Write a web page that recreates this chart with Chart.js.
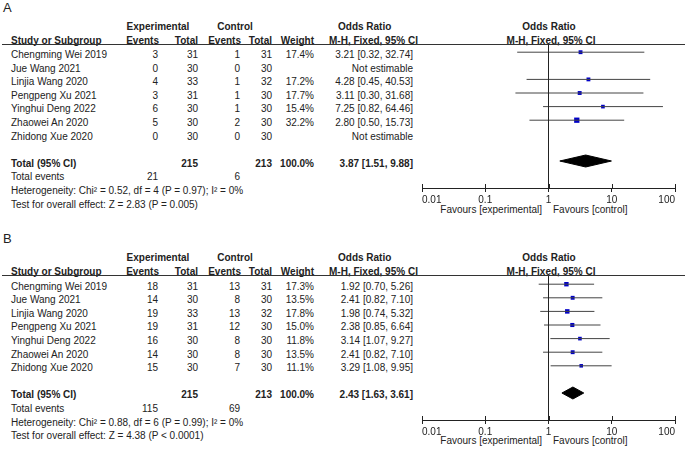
<!DOCTYPE html>
<html><head><meta charset="utf-8">
<script src="https://cdn.jsdelivr.net/npm/chart.js@4/dist/chart.umd.min.js"></script>
<style>
html,body{margin:0;padding:0;background:#fff;}
#root{position:relative;width:685px;height:449px;overflow:hidden;font-family:"Liberation Sans",Arial,sans-serif;font-size:10px;color:#222;}
.t{position:absolute;white-space:nowrap;line-height:12px;height:12px;}
.b{font-weight:bold;}
canvas{position:absolute;left:0;}
.hl{position:absolute;height:0;border-top:1px solid #333;}
</style></head><body><div id="root"></div>
<script>
// ---------- data ----------
const studies = ["Chengming Wei 2019","Jue Wang 2021","Linjia Wang 2020","Pengpeng Xu 2021","Yinghui Deng 2022","Zhaowei An 2020","Zhidong Xue 2020"];

const aExpEvents  = [3,0,4,3,6,5,0];
const aExpTotal   = [31,30,33,31,30,30,30];
const aCtrlEvents = [1,0,1,1,1,2,0];
const aCtrlTotal  = [31,30,32,30,30,30,30];
const aWeight     = [17.4,null,17.2,17.7,15.4,32.2,null];
const aOR         = [3.21,null,4.28,3.11,7.25,2.80,null];
const aLo         = [0.32,null,0.45,0.30,0.82,0.50,null];
const aHi         = [32.74,null,40.53,31.68,64.46,15.73,null];
const aTotals     = [215,213];          // exp total, ctrl total
const aEvents     = [21,6];             // total events exp, ctrl
const aPooled     = [3.87,1.51,9.88];   // OR, lo, hi
const aHet  = "Heterogeneity: Chi\u00b2 = 0.52, df = 4 (P = 0.97); I\u00b2 = 0%";
const aTest = "Test for overall effect: Z = 2.83 (P = 0.005)";

const bExpEvents  = [18,14,19,19,16,14,15];
const bExpTotal   = [31,30,33,31,30,30,30];
const bCtrlEvents = [13,8,13,12,8,8,7];
const bCtrlTotal  = [31,30,32,30,30,30,30];
const bWeight     = [17.3,13.5,17.8,15.0,11.8,13.5,11.1];
const bOR         = [1.92,2.41,1.98,2.38,3.14,2.41,3.29];
const bLo         = [0.70,0.82,0.74,0.85,1.07,0.82,1.08];
const bHi         = [5.26,7.10,5.32,6.64,9.27,7.10,9.95];
const bTotals     = [215,213];
const bEvents     = [115,69];
const bPooled     = [2.43,1.63,3.61];
const bHet  = "Heterogeneity: Chi\u00b2 = 0.88, df = 6 (P = 0.99); I\u00b2 = 0%";
const bTest = "Test for overall effect: Z = 4.38 (P < 0.0001)";

const tickValues = [0.01,0.1,1,10,100];
const tickLabels = ["0.01","0.1","1","10","100"];
const favoursLeft = "Favours [experimental]";
const favoursRight = "Favours [control]";

// ---------- layout ----------
const root = document.getElementById('root');
const ROW0 = 55, ROWH = 13.6;
function txt(x, y, s, align, bold) {
  const d = document.createElement('div');
  d.className = 't' + (bold ? ' b' : '');
  d.textContent = s;
  d.style.top = (y - 6) + 'px';
  if (align === 'r') { d.style.left = (x - 1000) + 'px'; d.style.width = '1000px'; d.style.textAlign = 'right'; }
  else if (align === 'c') { d.style.left = (x - 500) + 'px'; d.style.width = '1000px'; d.style.textAlign = 'center'; }
  else { d.style.left = x + 'px'; }
  root.appendChild(d);
  return d;
}
function fmtOR(o,l,h){ return o.toFixed(2) + " [" + l.toFixed(2) + ", " + h.toFixed(2) + "]"; }

const Y_MIN = -0.603, Y_MAX = 9.985, DH = 0.44;

function panel(label, off, canvasTop, sq, ee, et, ce, ct, w, or, lo, hi, totals, events, pooled, het, test) {
  const lab = txt(3, off + 7.5, label, 'l', false);
  lab.style.fontSize = '13px'; lab.style.lineHeight = '12px';
  txt(158, off + 26.7, "Experimental", 'c', true);
  txt(235, off + 26.7, "Control", 'c', true);
  txt(338, off + 26.7, "Odds Ratio", 'l', true);
  txt(549, off + 26.7, "Odds Ratio", 'c', true);
  txt(11, off + 40.7, "Study or Subgroup", 'l', true);
  txt(159, off + 40.7, "Events", 'r', true);
  txt(198, off + 40.7, "Total", 'r', true);
  txt(241, off + 40.7, "Events", 'r', true);
  txt(272, off + 40.7, "Total", 'r', true);
  txt(314, off + 40.7, "Weight", 'r', true);
  txt(329, off + 40.7, "M-H, Fixed, 95% CI", 'l', true);
  txt(551, off + 40.7, "M-H, Fixed, 95% CI", 'c', true);
  const hl = document.createElement('div');
  hl.className = 'hl'; hl.style.left = '2px'; hl.style.width = '683px'; hl.style.top = Math.round(off + 43.5) + 'px';
  root.appendChild(hl);
  studies.forEach((s, i) => {
    const y = off + ROW0 + ROWH * i;
    txt(11, y, s, 'l');
    txt(158, y, String(ee[i]), 'r');
    txt(198, y, String(et[i]), 'r');
    txt(240, y, String(ce[i]), 'r');
    txt(272, y, String(ct[i]), 'r');
    if (w[i] != null) txt(314, y, w[i].toFixed(1) + "%", 'r');
    txt(413, y, or[i] != null ? fmtOR(or[i], lo[i], hi[i]) : "Not estimable", 'r');
  });
  const yT = off + ROW0 + ROWH * 8;
  txt(11, yT, "Total (95% CI)", 'l', true);
  txt(198, yT, String(totals[0]), 'r', true);
  txt(272, yT, String(totals[1]), 'r', true);
  txt(314, yT, "100.0%", 'r', true);
  txt(413, yT, fmtOR(pooled[0], pooled[1], pooled[2]), 'r', true);
  txt(11, off + ROW0 + ROWH * 9, "Total events", 'l');
  txt(158, off + ROW0 + ROWH * 9, String(events[0]), 'r');
  txt(240, off + ROW0 + ROWH * 9, String(events[1]), 'r');
  txt(11, off + ROW0 + ROWH * 10, het, 'l');
  txt(11, off + ROW0 + ROWH * 11, test, 'l');
  txt(542, off + 209.8, favoursLeft, 'r');
  txt(553, off + 209.8, favoursRight, 'l');

  // chart
  const cv = document.createElement('canvas');
  cv.width = 685; cv.height = 216;
  cv.style.top = canvasTop + 'px';
  root.appendChild(cv);

  const datasets = [];
  datasets.push({ data: [{x:1,y:Y_MIN},{x:1,y:Y_MAX}], borderColor:'#222', borderWidth:1, pointRadius:0 });
  or.forEach((v, i) => {
    if (v == null) return;
    datasets.push({ data: [{x:lo[i],y:i},{x:hi[i],y:i}], borderColor:'#444', borderWidth:1, pointRadius:0 });
  });
  const pts = [], rad = [];
  or.forEach((v, i) => { if (v != null) { pts.push({x:v,y:i}); rad.push(sq * Math.sqrt(w[i]) / 1.414); } });
  datasets.push({ data: pts, showLine:false, pointStyle:'rect', pointRadius: rad, backgroundColor:'#0000c8', borderColor:'#0000c8', borderWidth:0 });
  datasets.push({ data: [{x:pooled[1],y:8},{x:pooled[0],y:8-DH},{x:pooled[2],y:8},{x:pooled[0],y:8+DH},{x:pooled[1],y:8}],
    fill:'shape', backgroundColor:'#000', borderColor:'#000', borderWidth:1, pointRadius:0 });

  const crossTicks = {
    id:'crossTicks',
    afterDraw(chart) {
      const ctx = chart.ctx, xs = chart.scales.x, b = chart.chartArea.bottom;
      ctx.save(); ctx.strokeStyle = '#222'; ctx.lineWidth = 1;
      tickValues.forEach(v => {
        const px = Math.round(xs.getPixelForValue(v)) + 0.5;
        ctx.beginPath(); ctx.moveTo(px, b - 4); ctx.lineTo(px, b); ctx.stroke();
      });
      ctx.restore();
    }
  };

  new Chart(cv, {
    type: 'line',
    data: { datasets },
    options: {
      responsive:false, animation:false, events:[],
      layout: { padding: { left:422, right:10, top:44, bottom:8 } },
      plugins: { legend:{display:false}, tooltip:{enabled:false} },
      scales: {
        x: {
          type:'logarithmic', min:0.01, max:100, position:'bottom',
          afterBuildTicks: (s) => { s.ticks = tickValues.map(v => ({ value: v, major: true })); },
          afterFit: (s) => { s.height = 20; },
          ticks: { autoSkip:false, maxRotation:0, padding:2, color:'#222', align:'inner',
                   font:{ family:'"Liberation Sans", Arial, sans-serif', size:10 },
                   callback: (v, i) => tickLabels[i] },
          grid: { drawOnChartArea:false, drawTicks:true, tickLength:4, color:'#222', lineWidth:1 },
          border: { display:true, color:'#222', width:1 }
        },
        y: { type:'linear', display:false, reverse:true, min:Y_MIN, max:Y_MAX }
      }
    },
    plugins: [crossTicks]
  });
}

panel("A", 0, 0, 0.93, aExpEvents, aExpTotal, aCtrlEvents, aCtrlTotal, aWeight, aOR, aLo, aHi, aTotals, aEvents, aPooled, aHet, aTest);
panel("B", 231.6, 232, 1.06, bExpEvents, bExpTotal, bCtrlEvents, bCtrlTotal, bWeight, bOR, bLo, bHi, bTotals, bEvents, bPooled, bHet, bTest);
</script></body></html>
